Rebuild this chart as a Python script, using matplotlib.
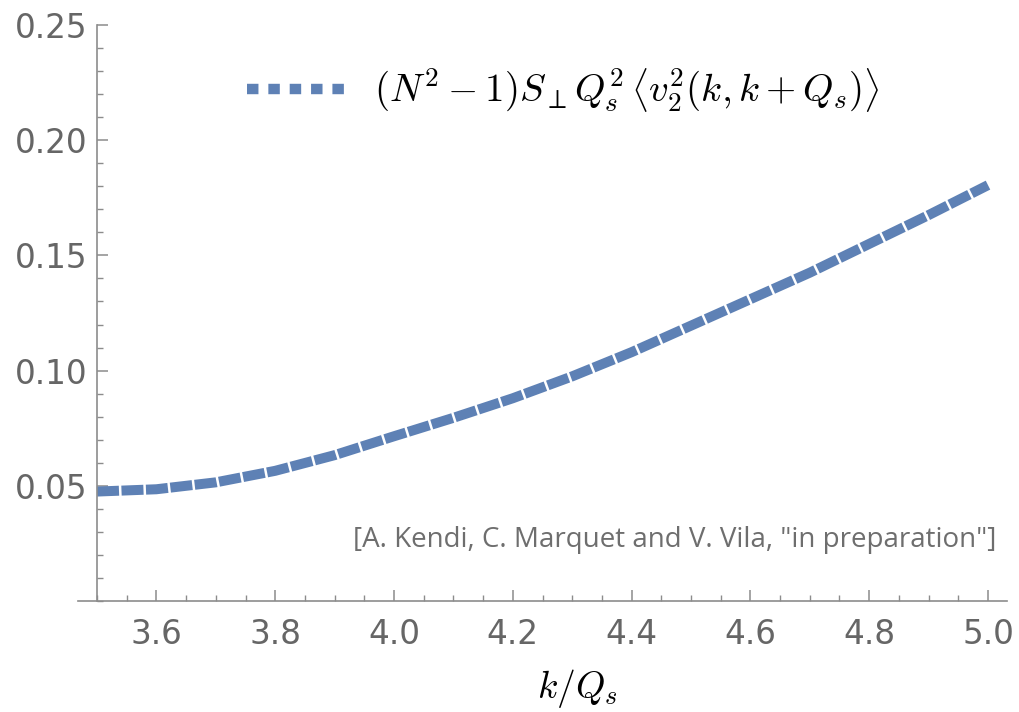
import numpy as np
import matplotlib
matplotlib.use("Agg")
import matplotlib.pyplot as plt
from matplotlib.lines import Line2D
from matplotlib.ticker import MultipleLocator

plt.rcParams['mathtext.fontset'] = 'cm'
plt.rcParams['font.family'] = ['DejaVu Sans']

# values
k_over_qs = [3.5, 3.6, 3.7, 3.8, 3.9, 4.0, 4.1, 4.2, 4.3, 4.4, 4.5, 4.6, 4.7, 4.8, 4.9, 5.0]
v2_corr = [0.0475, 0.0485, 0.0515, 0.0565, 0.0633, 0.0715, 0.0795, 0.0880, 0.0975,
           0.1080, 0.1195, 0.1310, 0.1425, 0.1550, 0.1675, 0.1805]

x_ticks = [3.6, 3.8, 4.0, 4.2, 4.4, 4.6, 4.8, 5.0]
y_ticks = [0.05, 0.10, 0.15, 0.20, 0.25]

blue = '#5e81b5'
axis_gray = '#8c8c8c'
label_gray = '#666666'

fig = plt.figure(figsize=(10.2, 7.12), dpi=100)
W, H = 1020, 712
ax = fig.add_axes([78 / W, 1 - 601 / H, (1007 - 78) / W, (601 - 25) / H])

ax.plot(k_over_qs, v2_corr, color=blue, lw=7.2, dashes=(2.2, 0.25),
        solid_capstyle='butt', dash_capstyle='butt')

ax.set_xlim(3.468, 5.032)
ax.set_ylim(0, 0.25)

ax.spines['top'].set_visible(False)
ax.spines['right'].set_visible(False)
ax.spines['left'].set_position(('data', 3.5))
for s in ['left', 'bottom']:
    ax.spines[s].set_color(axis_gray)
    ax.spines[s].set_linewidth(1.2)

ax.set_xticks(x_ticks)
ax.set_xticklabels(['%.1f' % v for v in x_ticks])
ax.set_yticks(y_ticks)
ax.set_yticklabels(['%.2f' % v for v in y_ticks])
ax.xaxis.set_minor_locator(MultipleLocator(0.05))
ax.yaxis.set_minor_locator(MultipleLocator(0.01))

ax.tick_params(which='major', direction='in', length=8, width=1.1, color=axis_gray,
               labelcolor=label_gray, labelsize=23.5)
ax.tick_params(which='minor', direction='in', length=4.5, width=1.0, color=axis_gray)
ax.tick_params(axis='x', which='major', pad=12)
ax.tick_params(axis='y', which='major', pad=7)

fig.text(577 / W, 1 - 688 / H, r'$k/Q_s$', fontsize=27, ha='center', va='center')

ax.text(0.989, 0.106, '[A. Kendi, C. Marquet and V. Vila, "in preparation"]',
        transform=ax.transAxes, ha='right', va='center', fontsize=20,
        family='Open Sans', color='#6e6e6e')

handle = Line2D([], [], color=blue, lw=7.5, dashes=(1.1, 0.95), dash_capstyle='butt')
ax.legend([handle], [r'$(N^2-1)S_{\perp}Q_s^2\,\left\langle v_2^2(k,k+Q_s)\right\rangle$'],
          loc='center left', bbox_to_anchor=(247 / W, 1 - 91 / H),
          bbox_transform=fig.transFigure, frameon=False, fontsize=28,
          handlelength=102 / 38.9, handletextpad=25 / 38.9, borderpad=0, borderaxespad=0)

fig.savefig('out.png', dpi=100)
